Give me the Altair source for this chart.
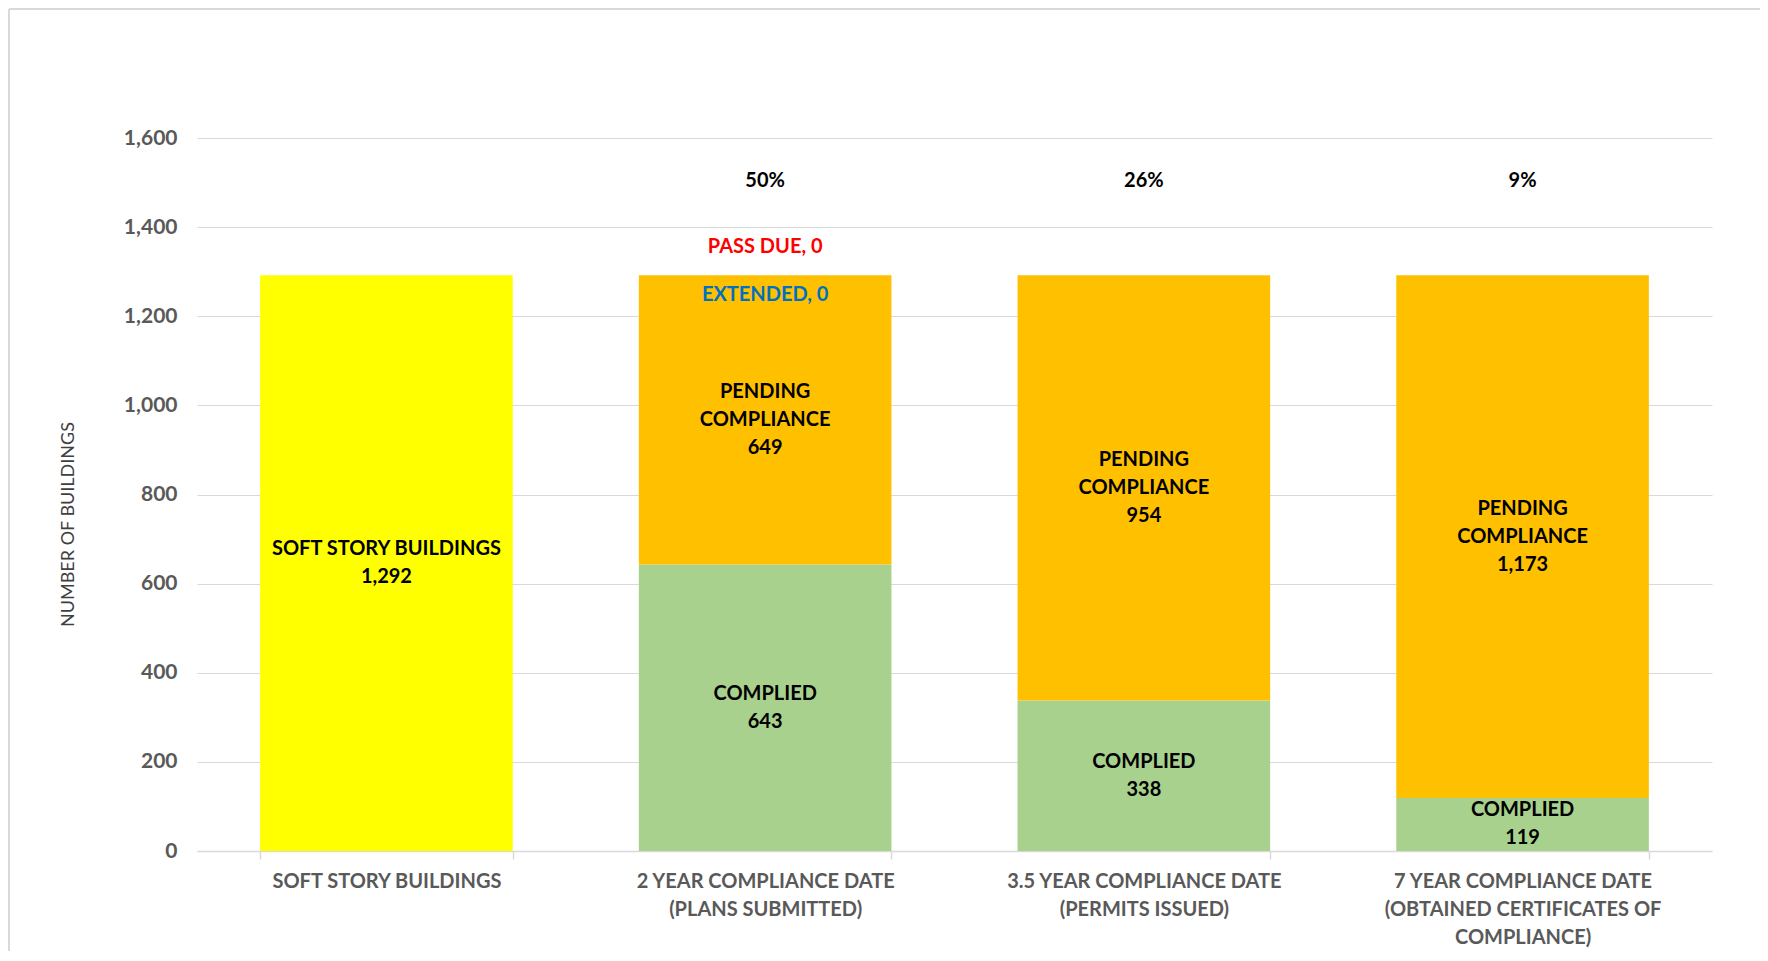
import altair as alt
import pandas as pd

# ---- data ----
categories = [
    "SOFT STORY BUILDINGS",
    "2 YEAR COMPLIANCE DATE|(PLANS SUBMITTED)",
    "3.5 YEAR COMPLIANCE DATE|(PERMITS ISSUED)",
    "7 YEAR COMPLIANCE DATE|(OBTAINED CERTIFICATES OF|COMPLIANCE)",
]
soft_story = [1292, 0, 0, 0]
complied = [0, 643, 338, 119]
pending = [0, 649, 954, 1173]
extended = [None, 0, None, None]
pass_due = [None, 0, None, None]

segment_names = ["SOFT STORY BUILDINGS", "COMPLIED", "PENDING COMPLIANCE"]
segment_text = ["SOFT STORY BUILDINGS", "COMPLIED", "PENDING\nCOMPLIANCE"]
segment_colors = ["#FFFF00", "#A9D18E", "#FFC000"]

FONT = "Lato"
FS = 20
LH = 28

# ---- build tables ----
rows = []
for i, cat in enumerate(categories):
    base = 0
    for name, txt, vals in zip(segment_names, segment_text, [soft_story, complied, pending]):
        v = vals[i]
        if v and v > 0:
            label = f"{txt}\n{v:,}"
            rows.append(dict(cat=cat, seg=name, start=base, end=base + v,
                             mid=base + v / 2, label=label, nlines=label.count("\n") + 1))
            base += v
bars = pd.DataFrame(rows)

totals = [s + c + p for s, c, p in zip(soft_story, complied, pending)]
pct_rows = []
for i, cat in enumerate(categories):
    if complied[i] > 0:
        pct_rows.append(dict(cat=cat, label=f"{round(100 * complied[i] / totals[i])}%"))
pct = pd.DataFrame(pct_rows)

zero_rows = []
for i, cat in enumerate(categories):
    if pass_due[i] is not None:
        zero_rows.append(dict(cat=cat, total=totals[i], kind="pass", label=f"PASS DUE, {pass_due[i]}"))
    if extended[i] is not None:
        zero_rows.append(dict(cat=cat, total=totals[i], kind="ext", label=f"EXTENDED, {extended[i]}"))
zeros = pd.DataFrame(zero_rows)

W, H = 1515, 713

x_axis = alt.Axis(
    labelExpr="split(datum.label, '|')", labelAngle=0,
    labelFont=FONT, labelFontSize=FS, labelFontWeight="bold", labelColor="#595959",
    labelLineHeight=LH, labelBaseline="top", labelPadding=12, labelLimit=400,
    domainColor="#D9D9D9", domainWidth=1.5, tickColor="#D9D9D9", tickWidth=1.5,
    tickSize=8, tickBand="extent", grid=False, title=None,
)
y_axis = alt.Axis(
    values=list(range(0, 1601, 200)), format=",.0f", domain=False, ticks=False,
    grid=True, gridColor="#D9D9D9", gridWidth=1.2,
    labelFont=FONT, labelFontSize=21, labelFontWeight="bold",
    labelColor="#595959", labelPadding=20,
    title="NUMBER OF BUILDINGS", titleFont=FONT, titleFontSize=18,
    titleFontWeight="normal", titleColor="#404040",
    titleAngle=270, titleAlign="center", titleBaseline="middle",
    titleX=-129, titleY=386,
)
x_scale = alt.Scale(paddingInner=0.333, paddingOuter=0.1667)
y_scale = alt.Scale(domain=[0, 1600])


def X():
    return alt.X("cat:N", sort=categories, scale=x_scale, axis=x_axis)


def Y(field):
    return alt.Y(field, scale=y_scale, axis=y_axis)


bar_layer = alt.Chart(bars).mark_bar().encode(
    x=X(), y=Y("start:Q"), y2="end:Q",
    color=alt.Color("seg:N", scale=alt.Scale(domain=segment_names, range=segment_colors), legend=None),
)

text_layers = []
for n in sorted(bars["nlines"].unique()):
    text_layers.append(
        alt.Chart(bars).transform_filter(f"datum.nlines == {n}").mark_text(
            lineBreak="\n", font=FONT, fontSize=FS, fontWeight="bold", color="#000000",
            baseline="middle", align="center", lineHeight=LH, dy=-(n - 1) * LH / 2,
        ).encode(x=X(), y=Y("mid:Q"), text="label:N")
    )

pct_text = alt.Chart(pct).mark_text(
    font=FONT, fontSize=FS, fontWeight="bold", color="#000000", baseline="middle",
).encode(x=X(), y=alt.Y(datum=1503, scale=y_scale, axis=y_axis), text="label:N")

pass_text = alt.Chart(zeros).transform_filter("datum.kind == 'pass'").mark_text(
    font=FONT, fontSize=FS, fontWeight="bold", color="#FF0000", baseline="middle", dy=-28,
).encode(x=X(), y=Y("total:Q"), text="label:N")

ext_text = alt.Chart(zeros).transform_filter("datum.kind == 'ext'").mark_text(
    font=FONT, fontSize=FS, fontWeight="bold", color="#0070C0", baseline="middle", dy=20,
).encode(x=X(), y=Y("total:Q"), text="label:N")

dummy = pd.DataFrame({"a": [0]})
border_top = alt.Chart(dummy).mark_rule(color="#D9D9D9", strokeWidth=2).encode(
    x=alt.value(-188), x2=alt.value(W + 100), y=alt.value(-129))
border_left = alt.Chart(dummy).mark_rule(color="#D9D9D9", strokeWidth=2).encode(
    x=alt.value(-188), y=alt.value(-129), y2=alt.value(H + 200))

chart = alt.layer(bar_layer, *text_layers, pct_text, pass_text, ext_text,
                  border_top, border_left).properties(
    width=W, height=H,
    background="white",
    autosize=alt.AutoSizeParams(type="none"),
    padding={"left": 189, "top": 130, "right": 48, "bottom": 100},
).configure_view(strokeWidth=0, stroke="transparent")

chart.save("out.html", embed_options={"renderer": "svg", "actions": False})
